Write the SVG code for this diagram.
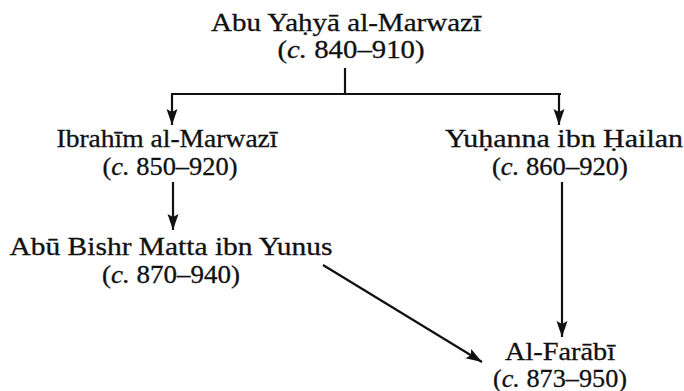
<svg xmlns="http://www.w3.org/2000/svg" width="684" height="391" viewBox="0 0 684 391">
<defs>
<style>
text{font-family:"Liberation Serif","DejaVu Serif",serif;font-size:25px;fill:#111;text-anchor:middle;stroke:#111;stroke-width:0.3px}
.i{font-style:italic}
.c{stroke:#111;stroke-width:2.2;fill:none}
</style>
<marker id="ah" markerUnits="userSpaceOnUse" markerWidth="18" markerHeight="12" refX="16" refY="6" orient="auto">
<path d="M0,0.5 L16,6 L0,11.5 L3,6 z" fill="#111"/>
</marker>
</defs>
<rect width="684" height="391" fill="#fff"/>
<g id="connectors">
<line class="c" x1="345" y1="68" x2="345" y2="94"/>
<line class="c" x1="171" y1="94" x2="561" y2="94"/>
<line class="c" x1="172" y1="94" x2="172" y2="125" marker-end="url(#ah)"/>
<line class="c" x1="559" y1="94" x2="559" y2="125" marker-end="url(#ah)"/>
<line class="c" x1="173" y1="182" x2="173" y2="230" marker-end="url(#ah)"/>
<line class="c" x1="562" y1="182" x2="562" y2="337" marker-end="url(#ah)"/>
<line class="c" x1="323" y1="265" x2="482" y2="362" marker-end="url(#ah)"/>
</g>
<g id="abu-yahya">
<text x="346" y="31" textLength="270" lengthAdjust="spacingAndGlyphs">Abu Yaḥyā al-Marwazī</text>
<text x="351" y="58" textLength="147" lengthAdjust="spacingAndGlyphs">(<tspan class="i">c.</tspan> 840–910)</text>
</g>
<g id="ibrahim">
<text x="167" y="147" textLength="221" lengthAdjust="spacingAndGlyphs">Ibrahīm al-Marwazī</text>
<text x="170" y="175" textLength="135" lengthAdjust="spacingAndGlyphs">(<tspan class="i">c.</tspan> 850–920)</text>
</g>
<g id="yuhanna">
<text x="564" y="147" textLength="238" lengthAdjust="spacingAndGlyphs">Yuḥanna ibn Ḥailan</text>
<text x="560" y="175" textLength="136" lengthAdjust="spacingAndGlyphs">(<tspan class="i">c.</tspan> 860–920)</text>
</g>
<g id="abu-bishr">
<text x="171" y="255" textLength="323" lengthAdjust="spacingAndGlyphs">Abū Bishr Matta ibn Yunus</text>
<text x="171" y="283" textLength="138" lengthAdjust="spacingAndGlyphs">(<tspan class="i">c.</tspan> 870–940)</text>
</g>
<g id="al-farabi">
<text x="560" y="360" textLength="110" lengthAdjust="spacingAndGlyphs">Al-Farābī</text>
<text x="560" y="387" textLength="134" lengthAdjust="spacingAndGlyphs">(<tspan class="i">c.</tspan> 873–950)</text>
</g>
</svg>
